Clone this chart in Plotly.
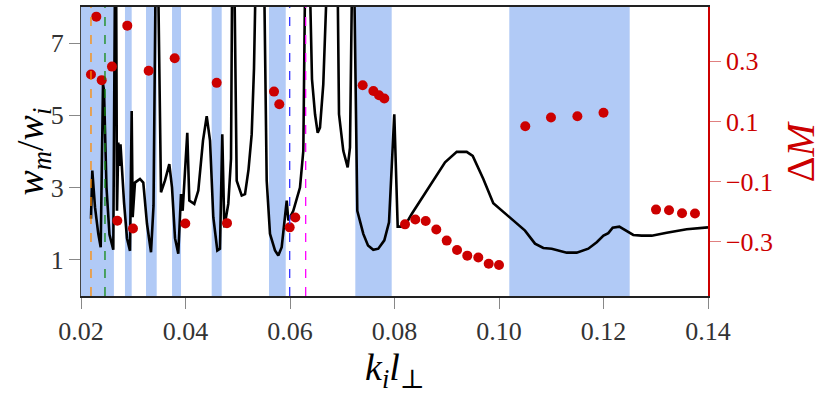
import plotly.graph_objects as go

# black curve: w_m / w_i vs k_i l_perp (values above 8 run off the top)
k_line = [0.02191, 0.02216, 0.02268, 0.02331, 0.02377, 0.02421, 0.02440, 0.02488, 0.02545, 0.02618,
          0.02664, 0.02689, 0.02714, 0.02737, 0.02756, 0.02823, 0.02880, 0.02938, 0.02970, 0.02989,
          0.03033, 0.03129, 0.03192, 0.03263, 0.03340, 0.03388, 0.03426, 0.03451, 0.03479, 0.03531,
          0.03608, 0.03690, 0.03742, 0.03799, 0.03862, 0.03914, 0.03946, 0.04034, 0.04073, 0.04168,
          0.04245, 0.04335, 0.04406, 0.04469, 0.04532, 0.04609, 0.04660, 0.04704, 0.04743, 0.04819,
          0.04871, 0.04900, 0.04915, 0.04934, 0.04980, 0.05076, 0.05139, 0.05206, 0.05267, 0.05311,
          0.05363, 0.05435, 0.05508, 0.05554, 0.05617, 0.05713, 0.05776, 0.05841, 0.05904, 0.05937,
          0.05968, 0.06063, 0.06191, 0.06255, 0.06287, 0.06335, 0.06383, 0.06421, 0.06479, 0.06530,
          0.06574, 0.06637, 0.06702, 0.06804, 0.06913, 0.06938, 0.07020, 0.07104, 0.07148, 0.07181,
          0.07200, 0.07215, 0.07231, 0.07288, 0.07403, 0.07493, 0.07594, 0.07690, 0.07805, 0.07895,
          0.07996, 0.08061, 0.08149, 0.08201, 0.08329, 0.08616, 0.08967, 0.09191, 0.09382, 0.09497,
          0.09700, 0.09891, 0.10211, 0.10498, 0.10689, 0.10848, 0.11009, 0.11296, 0.11487, 0.11709,
          0.11870, 0.12000, 0.12092, 0.12176, 0.12303, 0.12444, 0.12570, 0.12731, 0.12923, 0.13210,
          0.13592, 0.14000]
w_line = [2.14, 3.47, 2.46, 1.72, 1.35, 5.86, 5.70, 3.00, 1.70, 1.28,
          12.0, 2.36, 4.25, 3.60, 4.20, 2.60, 1.60, 1.25, 5.12, 2.18,
          3.14, 3.24, 3.14, 2.00, 1.21, 2.50, 8.50, 14.0, 8.50, 2.87,
          3.20, 3.65, 3.00, 1.60, 1.17, 2.82, 2.36, 4.52, 2.64, 2.55,
          2.92, 4.30, 4.98, 4.30, 2.18, 1.26, 1.31, 4.48, 1.90, 2.55,
          3.80, 9.00, 14.0, 9.00, 3.19, 2.78, 2.82, 3.50, 4.48, 6.30,
          8.50, 16.0, 8.50, 3.19, 1.72, 1.26, 1.12, 1.35, 2.20, 2.64,
          2.09, 2.36, 3.00, 4.02, 8.50, 16.0, 8.50, 6.00, 5.03, 4.52,
          4.66, 5.86, 8.50, 16.0, 8.50, 5.03, 4.02, 3.56, 4.11, 6.32,
          8.50, 12.0, 8.50, 2.36, 1.72, 1.40, 1.28, 1.31, 1.54, 2.04,
          5.03, 1.92, 1.92, 1.95, 2.27, 2.92, 3.70, 3.99, 3.99, 3.88,
          3.24, 2.57, 2.18, 1.81, 1.45, 1.33, 1.31, 1.20, 1.20, 1.31,
          1.49, 1.67, 1.74, 1.89, 1.92, 1.79, 1.69, 1.67, 1.67, 1.75,
          1.85, 1.90]

# red dots: Delta M on the right axis
k_dots = [0.02191, 0.02293, 0.02396, 0.02593, 0.02695, 0.02886, 0.02995, 0.03295, 0.03793, 0.03996,
          0.04597, 0.04794, 0.05694, 0.05795, 0.05994, 0.06101, 0.07391, 0.07596, 0.07703, 0.07805,
          0.08201, 0.08398, 0.08597, 0.08800, 0.08999, 0.09197, 0.09393, 0.09604, 0.09803, 0.10000,
          0.10503, 0.10995, 0.11500, 0.12000, 0.13005, 0.13254, 0.13503, 0.13751]
dM = [0.256, 0.448, 0.237, 0.282, -0.230, 0.418, -0.256, 0.268, 0.310, -0.239,
      0.228, -0.238, 0.199, 0.157, -0.252, -0.219, 0.220, 0.201, 0.187, 0.176,
      -0.242, -0.226, -0.231, -0.259, -0.296, -0.327, -0.346, -0.352, -0.373, -0.377,
      0.084, 0.113, 0.117, 0.129, -0.193, -0.195, -0.205, -0.206]

# shaded bands (k ranges)
bands = [(0.0200, 0.0263), (0.02842, 0.02970), (0.03244, 0.03449), (0.03742, 0.03914),
         (0.04501, 0.04693), (0.05598, 0.05918), (0.07250, 0.07946), (0.10197, 0.12501)]

# dashed vertical markers
vlines = [(0.02191, "#ff8c00"), (0.02459, "#138a13"), (0.05994, "#3333ff"), (0.06300, "#ff00ff")]

x_ticks = [0.02, 0.04, 0.06, 0.08, 0.10, 0.12, 0.14]
y_ticks = [1, 3, 5, 7]
y2_ticks = [-0.3, -0.1, 0.1, 0.3]
y2_text = ["\u22120.3", "\u22120.1", "0.1", "0.3"]

RED = "#cc0000"
FONT = "'Times New Roman', 'Liberation Serif', Tinos, 'DejaVu Serif', serif"

fig = go.Figure()
fig.add_trace(go.Scatter(x=k_line, y=w_line, mode="lines",
                         line=dict(color="black", width=2.6), showlegend=False))
fig.add_trace(go.Scatter(x=k_dots, y=dM, mode="markers", yaxis="y2",
                         marker=dict(color=RED, size=10), showlegend=False))

shapes = []
for x0, x1 in bands:
    shapes.append(dict(type="rect", xref="x", yref="paper", x0=x0, x1=x1, y0=0, y1=1,
                       fillcolor="rgba(100,149,237,0.5)", line_width=0, layer="below"))
for xv, col in vlines:
    shapes.append(dict(type="line", xref="x", yref="paper", x0=xv, x1=xv, y0=0, y1=1,
                       line=dict(color=col, width=1.3, dash="dash")))

fig.update_layout(
    width=831, height=396,
    margin=dict(l=81, r=123, t=5, b=100),
    plot_bgcolor="white", paper_bgcolor="white",
    font=dict(family=FONT, size=26, color="#333"),
    shapes=shapes,
    xaxis=dict(range=[0.02, 0.14], tickvals=x_ticks, tickformat=".2f",
               ticks="outside", ticklen=11, tickcolor="#888", showgrid=False, zeroline=False,
               showline=True, linecolor="#222", linewidth=1.5, mirror=True),
    yaxis=dict(range=[0, 8], tickvals=y_ticks, ticks="outside", ticklen=11, tickcolor="#888",
               showgrid=False, zeroline=False, showline=True, linecolor="#444", linewidth=1),
    yaxis2=dict(range=[-0.48, 0.48], overlaying="y", side="right", tickvals=y2_ticks,
                ticktext=y2_text, ticks="outside", ticklen=11, tickcolor="#e08080",
                tickfont=dict(color=RED, size=26), showgrid=False, zeroline=False,
                showline=True, linecolor=RED, linewidth=1.5),
    annotations=[
        dict(text="<i>w</i><sub><i>m</i></sub>/<i>w</i><sub><i>i</i></sub>", xref="paper", yref="paper",
             x=-0.078, y=0.5, xanchor="center", yanchor="middle", textangle=-90, showarrow=False,
             font=dict(size=38, color="black", family=FONT)),
        dict(text="<i>k</i><sub><i>i</i></sub><i>l</i><sub>\u22a5</sub>", xref="paper", yref="paper",
             x=0.5, y=-0.165, xanchor="center", yanchor="top", showarrow=False,
             font=dict(size=38, color="black", family=FONT)),
        dict(text="\u0394<i>M</i>", xref="paper", yref="paper",
             x=1.148, y=0.5, xanchor="center", yanchor="middle", textangle=-90, showarrow=False,
             font=dict(size=40, color=RED, family=FONT)),
    ],
)

# page body has a default 8px margin; drop it so the figure sits at the window corner
fig.write_html("out.html", config={"displayModeBar": False},
               post_script="document.body.style.margin='0';")
